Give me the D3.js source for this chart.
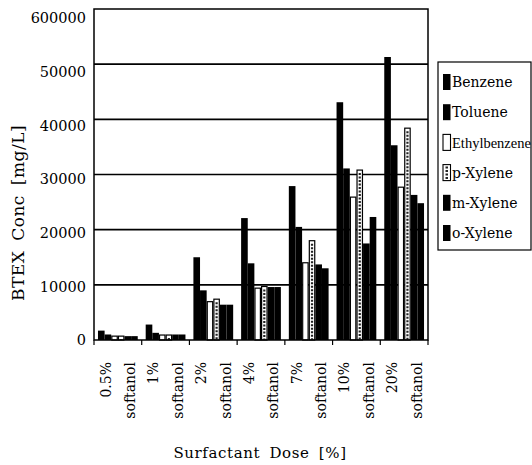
<!DOCTYPE html>
<html>
<head>
<meta charset="utf-8">
<script src="https://cdn.jsdelivr.net/npm/d3@7"></script>
<style>
  html, body { margin: 0; padding: 0; background: #fff; }
  svg { display: block; }
  text { font-family: "DejaVu Serif", "Liberation Serif", serif; fill: #000; }
</style>
</head>
<body>
<svg id="chart" width="532" height="465"></svg>
<script>
// ---- data ----
const groupLine1 = ["0.5%", "1%", "2%", "4%", "7%", "10%", "20%"];
const groupLine2 = "softanol";
const seriesNames = ["Benzene", "Toluene", "Ethylbenzene", "p-Xylene", "m-Xylene", "o-Xylene"];
const benzene      = [1700, 2800, 15000, 22100, 27900, 43100, 51300];
const toluene      = [1000, 1300,  9000, 13900, 20500, 31100, 35300];
const ethylbenzene = [ 700,  900,  6950,  9400, 14000, 25900, 27700];
const pXylene      = [ 700,  900,  7400,  9700, 18000, 30800, 38400];
const mXylene      = [ 700, 1000,  6400,  9600, 13700, 17500, 26300];
const oXylene      = [ 700, 1000,  6400,  9600, 13000, 22300, 24800];
const yTicks = [0, 10000, 20000, 30000, 40000, 50000, 60000];
const yTickLabels = ["0", "10000", "20000", "30000", "40000", "50000", "600000"];
const xTitle = "Surfactant Dose [%]";
const yTitle = "BTEX Conc [mg/L]";

const seriesValues = [benzene, toluene, ethylbenzene, pXylene, mXylene, oXylene];
const seriesStyle = ["black", "black", "white", "dotted", "black", "black"];

// ---- layout ----
const svg = d3.select("#chart");
const L = 94, R = 428, T = 9, B = 340;

const x = d3.scaleBand().domain(groupLine1).range([L, R]).padding(0);
const xs = d3.scaleBand().domain(seriesNames).range([0, x.bandwidth()])
  .paddingInner(0).paddingOuter(0.6);
const y = d3.scaleLinear().domain([0, 60000]).range([B, T]);
const yLab = d3.scaleLinear().domain([0, 60000]).range([B, 18]);

// gridlines
svg.append("g").selectAll("line").data(yTicks.slice(1, -1)).join("line")
  .attr("x1", L).attr("x2", R)
  .attr("y1", d => y(d)).attr("y2", d => y(d))
  .attr("stroke", "#000").attr("stroke-width", 1.6);

// bars
const rows = [];
groupLine1.forEach((g, gi) => {
  seriesNames.forEach((s, si) => {
    rows.push({ g, s, v: seriesValues[si][gi], style: seriesStyle[si] });
  });
});
const barG = svg.append("g");
barG.selectAll("rect").data(rows).join("rect")
  .attr("x", d => x(d.g) + xs(d.s) + (d.style === "black" ? 0 : 0.6))
  .attr("y", d => y(d.v))
  .attr("width", d => xs.bandwidth() - (d.style === "black" ? 0 : 1.2))
  .attr("height", d => B - y(d.v))
  .attr("fill", d => d.style === "black" ? "#000" : "#fff")
  .attr("stroke", d => d.style === "black" ? "none" : "#000")
  .attr("stroke-width", 1.2);
barG.selectAll("line.dash").data(rows.filter(d => d.style === "dotted")).join("line")
  .attr("class", "dash")
  .attr("x1", d => x(d.g) + xs(d.s) + xs.bandwidth() / 2)
  .attr("x2", d => x(d.g) + xs(d.s) + xs.bandwidth() / 2)
  .attr("y1", d => y(d.v) + 3).attr("y2", B)
  .attr("stroke", "#222").attr("stroke-width", 2.2)
  .attr("stroke-dasharray", "2,1.5");

// frame
svg.append("rect").attr("x", L).attr("y", T).attr("width", R - L).attr("height", B - T)
  .attr("fill", "none").attr("stroke", "#000").attr("stroke-width", 1.5);

// x ticks at group boundaries
const bounds = groupLine1.map(g => x(g)).concat([R]);
svg.append("g").selectAll("line").data(bounds).join("line")
  .attr("x1", d => d).attr("x2", d => d)
  .attr("y1", B).attr("y2", B + 5)
  .attr("stroke", "#000").attr("stroke-width", 1.2);

// y labels
svg.append("g").selectAll("text").data(yTicks).join("text")
  .attr("x", 86).attr("y", d => yLab(d))
  .attr("dy", "0.36em")
  .attr("text-anchor", "end")
  .attr("font-size", 14.5)
  .text((d, i) => yTickLabels[i]);

// x labels (rotated)
const xl = svg.append("g");
groupLine1.forEach(g => {
  const cx = x(g) + x.bandwidth() / 2;
  xl.append("text")
    .attr("transform", `translate(${cx - 12},362) rotate(-90)`)
    .attr("text-anchor", "end").attr("dy", "0.35em")
    .attr("font-size", 14).text(g);
  xl.append("text")
    .attr("transform", `translate(${cx + 12.5},362) rotate(-90)`)
    .attr("text-anchor", "end").attr("dy", "0.35em")
    .attr("font-size", 14).text(groupLine2);
});

// axis titles
svg.append("text").attr("x", 260).attr("y", 458)
  .attr("text-anchor", "middle").attr("font-size", 15)
  .attr("letter-spacing", 0.6).attr("word-spacing", 4)
  .text(xTitle);
svg.append("text")
  .attr("transform", "translate(24,213) rotate(-90)")
  .attr("text-anchor", "middle").attr("font-size", 17)
  .attr("letter-spacing", 0.5).attr("word-spacing", 4)
  .text(yTitle);

// legend
const lg = svg.append("g");
lg.append("rect").attr("x", 438).attr("y", 62).attr("width", 93).attr("height", 188)
  .attr("fill", "#fff").attr("stroke", "#000").attr("stroke-width", 1.2);
seriesNames.forEach((s, i) => {
  const cy = 82 + i * 30.2;
  const st = seriesStyle[i];
  lg.append("rect").attr("x", 443).attr("y", cy - 8).attr("width", 7.5).attr("height", 16)
    .attr("fill", st === "black" ? "#000" : "#fff")
    .attr("stroke", st === "black" ? "none" : "#000").attr("stroke-width", 1.1);
  if (st === "dotted") {
    lg.append("line").attr("x1", 446.75).attr("x2", 446.75)
      .attr("y1", cy - 6).attr("y2", cy + 7)
      .attr("stroke", "#222").attr("stroke-width", 2.5).attr("stroke-dasharray", "2,1.5");
  }
  const t = lg.append("text").attr("x", 452).attr("y", cy).attr("dy", "0.36em")
    .attr("font-size", 14).text(s);
  if (s === "Ethylbenzene") t.style("font-family", "'Liberation Serif', serif").attr("font-size", 14.5);
});
</script>
</body>
</html>
